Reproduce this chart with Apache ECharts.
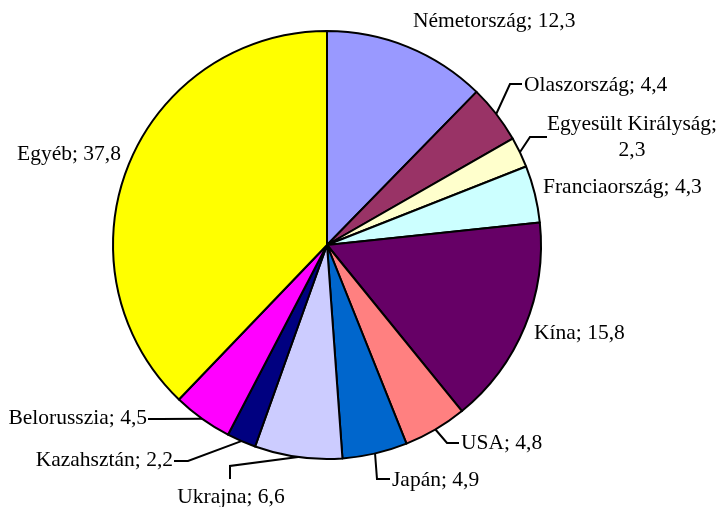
<!DOCTYPE html>
<html>
<head>
<meta charset="utf-8">
<script src="https://cdn.jsdelivr.net/npm/echarts@6/dist/echarts.min.js"></script>
<style>html,body{margin:0;padding:0;background:#fff;}#c{width:716px;height:507px;}</style>
</head>
<body>
<div id="c"></div>
<script>
const categories = ['Németország','Olaszország','Egyesült Királyság','Franciaország','Kína','USA','Japán','Ukrajna','Kazahsztán','Belorusszia','Egyéb'];
const values = [12.3, 4.4, 2.3, 4.3, 15.8, 4.8, 4.9, 6.6, 2.2, 4.5, 37.8];
const colors = ['#9999FF','#993366','#FFFFCC','#CCFFFF','#660066','#FF8080','#0066CC','#CCCCFF','#000080','#FF00FF','#FFFF00'];

// label placement (style): x, y, align, optional leader bend/end points
const labelPlace = {
  'Németország':        {x:413, y:21, align:'left'},
  'Olaszország':        {x:524, y:85, align:'left', pts:[[510,84],[522,84]]},
  'Egyesült Királyság': {x:632, y:137, align:'center', pts:[[530,137],[547,137]]},
  'Franciaország':      {x:543, y:187, align:'left'},
  'Kína':               {x:534, y:333, align:'left'},
  'USA':                {x:461, y:443, align:'left', pts:[[447,443],[459,443]]},
  'Japán':              {x:392, y:480, align:'left', pts:[[377,479],[390,479]]},
  'Ukrajna':            {x:231, y:497, align:'center', pts:[[230,466],[230,479]]},
  'Kazahsztán':         {x:173, y:460, align:'right', pts:[[188,461],[174,461]]},
  'Belorusszia':        {x:147, y:418, align:'right', pts:[[160,419],[148,419]]},
  'Egyéb':              {x:17, y:154, align:'left'}
};

const chart = echarts.init(document.getElementById('c'));
const data = categories.map((n,i)=>({
  name:n, value:values[i],
  itemStyle:{color:colors[i]},
  labelLine:{show: !!labelPlace[n].pts}
}));
chart.setOption({
  animation:false,
  series:[{
    type:'pie',
    center:[327,245],
    radius:214,
    startAngle:90,
    clockwise:true,
    avoidLabelOverlap:false,
    itemStyle:{borderColor:'#000', borderWidth:2},
    emphasis:{disabled:true},
    label:{
      show:true, position:'outside',
      fontFamily:'Liberation Serif', fontSize:21.5, color:'#000', lineHeight:26,
      formatter:function(p){
        const v = String(p.value).replace('.', ',');
        return p.name === 'Egyesült Királyság' ? p.name + ';\n' + v : p.name + '; ' + v;
      }
    },
    labelLine:{show:true, length:10, length2:10, smooth:false, lineStyle:{color:'#000', width:2}},
    labelLayout:function(params){
      const n = categories[params.dataIndex];
      const lp = labelPlace[n];
      const out = {x:lp.x, y:lp.y, align:lp.align, verticalAlign:'middle'};
      if (lp.pts && params.labelLinePoints) {
        out.labelLinePoints = [params.labelLinePoints[0], lp.pts[0], lp.pts[1]];
      }
      return out;
    },
    data:data
  }]
});
</script>
</body>
</html>
